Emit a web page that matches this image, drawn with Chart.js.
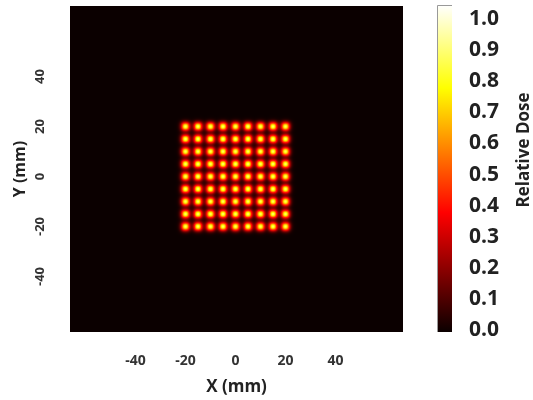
<!DOCTYPE html>
<html>
<head>
<meta charset="utf-8">
<script src="https://cdn.jsdelivr.net/npm/chart.js@4"></script>
<style>
  html, body { margin: 0; padding: 0; background: #fff; }
  #wrap { width: 533px; height: 400px; }
</style>
</head>
<body>
<div id="wrap"><canvas id="doseChart"></canvas></div>
<script>
// spot grid (mm) and peak dose
const spotX = [-20, -15, -10, -5, 0, 5, 10, 15, 20];
const spotY = [-20, -15, -10, -5, 0, 5, 10, 15, 20];
const peakDose = 0.85;

const xTicks = [-40, -20, 0, 20, 40];
const yTicks = [-40, -20, 0, 20, 40];
const doseTicks = [0, 0.1, 0.2, 0.3, 0.4, 0.5, 0.6, 0.7, 0.8, 0.9, 1.0];

// "hot" colour map, black -> red -> yellow -> white
function hot(v) {
  const r = Math.min(1, Math.max(0, v / 0.365));
  const g = Math.min(1, Math.max(0, (v - 0.365) / 0.381));
  const b = Math.min(1, Math.max(0, (v - 0.746) / 0.254));
  return [r * 255, g * 255, b * 255];
}

// one blurred spot, used as the point image
function makeSpot(peak) {
  const size = 28, c = size / 2, sigma = 2.9, p = 2.4;
  const cv = document.createElement("canvas");
  cv.width = size; cv.height = size;
  const cx = cv.getContext("2d");
  const img = cx.createImageData(size, size);
  for (let j = 0; j < size; j++) {
    for (let i = 0; i < size; i++) {
      const dx = Math.abs(i + 0.5 - c), dy = Math.abs(j + 0.5 - c);
      const d = Math.pow(Math.pow(dx, p) + Math.pow(dy, p), 1 / p);
      const rgb = hot(peak * Math.exp(-d * d / (2 * sigma * sigma)));
      const k = (j * size + i) * 4;
      img.data[k] = rgb[0]; img.data[k + 1] = rgb[1]; img.data[k + 2] = rgb[2]; img.data[k + 3] = 255;
    }
  }
  cx.putImageData(img, 0, 0);
  return cv;
}

const spotImg = makeSpot(peakDose);
const points = spotX.flatMap(x => spotY.map(y => ({ x, y })));

// dark plot background + additive blending for the spots
const plotArea = {
  id: "plotArea",
  beforeDatasetsDraw(chart) {
    const { ctx, chartArea: a } = chart;
    ctx.save();
    ctx.fillStyle = "#0b0000";
    ctx.fillRect(a.left, a.top, a.right - a.left, a.bottom - a.top);
    ctx.globalCompositeOperation = "lighter";
  },
  afterDatasetsDraw(chart) {
    chart.ctx.restore();
  }
};

// colour bar next to the dose axis
const colorBar = {
  id: "colorBar",
  afterDraw(chart) {
    const { ctx, chartArea: a } = chart;
    const s = chart.scales.cb;
    const x0 = s.left + 34, w = 15, top = a.top - 1, bottom = a.bottom;
    const g = ctx.createLinearGradient(0, bottom, 0, top);
    g.addColorStop(0, "#0b0000");
    g.addColorStop(0.365, "#ff0000");
    g.addColorStop(0.746, "#ffff00");
    g.addColorStop(1, "#ffffff");
    ctx.save();
    ctx.fillStyle = g;
    ctx.fillRect(x0, top, w, bottom - top);
    ctx.strokeStyle = "#999";
    ctx.lineWidth = 1;
    ctx.beginPath();
    ctx.moveTo(x0 + 0.5, bottom);
    ctx.lineTo(x0 + 0.5, top + 0.5);
    ctx.lineTo(x0 + w, top + 0.5);
    ctx.stroke();

    ctx.translate(524, 150);
    ctx.rotate(-Math.PI / 2);
    ctx.fillStyle = "#222";
    ctx.font = "bold 17px 'Open Sans'";
    ctx.textAlign = "center";
    ctx.textBaseline = "middle";
    ctx.fillText("Relative Dose", 0, 0);
    ctx.restore();
  }
};

// fixed box sizes, no extra label padding
function fixBox(w, h) {
  return s => {
    if (w) s.width = w;
    if (h) s.height = h;
    s.paddingTop = 0; s.paddingBottom = 0; s.paddingLeft = 0; s.paddingRight = 0;
  };
}

Chart.defaults.font.family = "'Open Sans', sans-serif";

new Chart(document.getElementById("doseChart"), {
  type: "scatter",
  data: {
    datasets: [{
      data: points,
      pointStyle: spotImg,
      pointRadius: 12,
      pointHoverRadius: 12
    }]
  },
  options: {
    responsive: true,
    maintainAspectRatio: false,
    animation: false,
    events: [],
    layout: { autoPadding: false, padding: { top: 6 } },
    plugins: { legend: { display: false }, tooltip: { enabled: false } },
    scales: {
      x: {
        type: "linear",
        min: -66.2,
        max: 67,
        afterBuildTicks: s => { s.ticks = xTicks.map(v => ({ value: v })); },
        afterFit: fixBox(0, 68),
        grid: { display: false },
        border: { display: false },
        ticks: { font: { size: 14, weight: "bold" }, color: "#333", padding: 13, maxRotation: 0, autoSkip: false },
        title: { display: true, text: "X (mm)", color: "#222", font: { size: 17, weight: "bold" }, padding: { top: 0, bottom: 3 } }
      },
      y: {
        type: "linear",
        min: -62.2,
        max: 68.2,
        afterBuildTicks: s => { s.ticks = yTicks.map(v => ({ value: v })); },
        afterFit: fixBox(70, 0),
        grid: { display: false },
        border: { display: false },
        ticks: { font: { size: 13, weight: "bold" }, color: "#333", padding: 12, minRotation: 90, maxRotation: 90, crossAlign: "center", autoSkip: false },
        title: { display: true, text: "Y (mm)", color: "#222", font: { size: 16, weight: "bold" }, padding: { top: 11, bottom: 0 } }
      },
      cb: {
        type: "linear",
        position: "right",
        min: -0.006,
        max: 1.042,
        afterBuildTicks: s => { s.ticks = doseTicks.map(v => ({ value: v })); },
        afterFit: fixBox(130, 0),
        grid: { display: false },
        border: { display: false },
        ticks: { font: { size: 21, weight: "bold" }, color: "#222", padding: 58, autoSkip: false, callback: v => v.toFixed(1) }
      }
    }
  },
  plugins: [plotArea, colorBar]
});
</script>
</body>
</html>
